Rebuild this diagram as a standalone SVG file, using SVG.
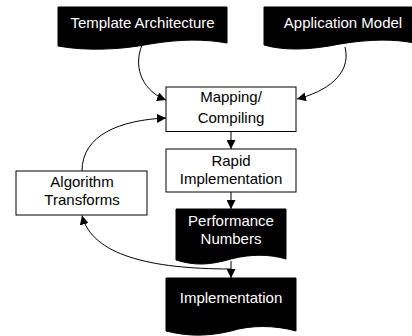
<svg xmlns="http://www.w3.org/2000/svg" width="412" height="336" viewBox="0 0 412 336">
<style>
.box{fill:#fff;stroke:#000;stroke-width:1}
.doc{fill:#000;stroke:#000;stroke-width:1}
.t{font-family:"Liberation Sans",Arial,sans-serif;font-size:15px;text-anchor:middle;fill:#000}
.w{fill:#fff}
.c{fill:none;stroke:#000;stroke-width:1}
</style>
<defs>
<marker id="ah" markerUnits="userSpaceOnUse" markerWidth="10" markerHeight="9" refX="9" refY="4.5" orient="auto">
<path d="M0,0 L9,4.5 L0,9 z" fill="#000"/>
</marker>
</defs>
<rect width="412" height="336" fill="#fff"/>
<g id="template">
<path class="doc" d="M58,7 H227 V43 C205,39 180,39 150,44 C120,50 85,51 58,46 Z"/>
<text class="t w" x="142.5" y="28">Template Architecture</text>
</g>
<g id="application">
<path class="doc" d="M264,7 H414 V43 C395,39 370,39 340,44 C310,50 285,51 264,45 Z"/>
<text class="t w" x="343" y="28">Application Model</text>
</g>
<g id="mapping">
<rect class="box" x="166" y="87" width="130" height="44.5"/>
<text class="t" x="231" y="102">Mapping/</text>
<text class="t" x="231" y="123">Compiling</text>
</g>
<g id="rapid">
<rect class="box" x="166" y="149" width="130" height="43"/>
<text class="t" x="231" y="166">Rapid</text>
<text class="t" x="231" y="184">Implementation</text>
</g>
<g id="algorithm">
<rect class="box" x="16" y="171" width="131" height="44"/>
<text class="t" x="82" y="187">Algorithm</text>
<text class="t" x="82" y="205">Transforms</text>
</g>
<g id="performance">
<path class="doc" d="M176,209 H286 V259 C270,254 250,254 231,259 C210,265 195,266 176,260 Z"/>
<text class="t w" x="231" y="226">Performance</text>
<text class="t w" x="231" y="244">Numbers</text>
</g>
<g id="implementation">
<path class="doc" d="M166,278 H296 V331 C275,325 250,325 231,331 C210,336 190,337 166,331 Z"/>
<text class="t w" x="231" y="303">Implementation</text>
</g>
<g id="connectors">
<path class="c" d="M142,45 C132,70 145,92 166,100" marker-end="url(#ah)"/>
<path class="c" d="M345,47 C352,75 325,92 297,99" marker-end="url(#ah)"/>
<path class="c" d="M231,132 V149" marker-end="url(#ah)"/>
<path class="c" d="M231,192 V209" marker-end="url(#ah)"/>
<path class="c" d="M231,261 V278" marker-end="url(#ah)"/>
<path class="c" d="M231,269 C150,269 92,255 82,215.5" marker-end="url(#ah)"/>
<path class="c" d="M82,171 C82,135 120,120 166,118" marker-end="url(#ah)"/>
</g>
</svg>
